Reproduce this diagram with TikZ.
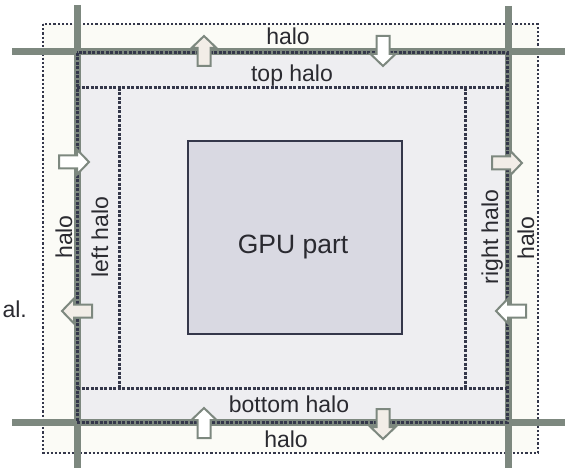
\documentclass[tikz,border=0pt]{standalone}
\usepackage{fontspec}
\setmainfont{Liberation Sans}

\definecolor{rim}{HTML}{7D887F}
\definecolor{dotc}{HTML}{34374a}
\definecolor{haloout}{HTML}{FBFBF6}
\definecolor{haloin}{HTML}{EEEEF1}
\definecolor{gpufill}{HTML}{D9D9E2}
\definecolor{cream}{HTML}{F2EDE7}
\definecolor{txt}{HTML}{2A2A30}

\begin{document}
\begin{tikzpicture}[
        x=1pt, y=-1pt,
        font=\fontsize{23}{27}\selectfont,
        lbl/.style = {text=txt, inner sep=0pt, anchor=base},
        grid/.style = {rim, line width=7pt},
        dots/.style = {dotc, line width=3pt, dash pattern=on 3pt off 1.5pt},
        outerdots/.style = {dotc, line width=2.2pt, dash pattern=on 2.2pt off 2pt},
        blk/.pic = {\path[pic actions, draw=rim, line width=2pt, line join=miter]
                (1,-6.5) -- (19,-6.5) -- (19,-12.5) -- (31,0) -- (19,12.5)
                -- (19,6.5) -- (1,6.5) -- cycle;},
        outarr/.style = {fill=cream},
        inarr/.style = {fill=white}
        ]
        \useasboundingbox (0,0) rectangle (565,468);

        % outer halo ring and the owned block
        \draw[outerdots, fill=haloout] (43,24) rectangle (538,453);
        \fill[haloin] (77,52) rectangle (507,422);

        % partition lines
        \draw[grid] (77.5,5) -- (77.5,468);
        \draw[grid] (508,6) -- (508,468);
        \draw[grid] (12,52) -- (565,52);
        \draw[grid] (12,422) -- (565,422);

        % halo strips inside the block
        \draw[dots] (77,53) rectangle (507,422);
        \draw[dots] (77,88) -- (507,88);
        \draw[dots] (77,388) -- (507,388);
        \draw[dots] (119,88) -- (119,388);
        \draw[dots] (465,88) -- (465,388);

        % interior
        \node[draw=dotc, line width=1.4pt, fill=gpufill, minimum width=214pt,
              minimum height=193pt, inner sep=0pt] (gpu) at (295,237.5) {};
        \node[lbl, font=\fontsize{26.5}{30}\selectfont] (gputxt) at (293,253) {GPU part};

        % labels
        \node[lbl] (haloT) at (288,45) {halo};
        \node[lbl] (topH) at (292,82) {top halo};
        \node[lbl] (botH) at (289,412) {bottom halo};
        \node[lbl] (haloB) at (286,447) {halo};
        \node[lbl, rotate=90] (haloL) at (72,237) {halo};
        \node[lbl, rotate=90] (leftH) at (108,237) {left halo};
        \node[lbl, rotate=90] (rightH) at (498,237) {right halo};
        \node[lbl, rotate=90] (haloR) at (534,238) {halo};
        \node[lbl, anchor=base east] (cut) at (27,317) {al.};

        % exchange arrows
        \pic[outarr, rotate=90] (upT) at (204,67) {blk};
        \pic[inarr, rotate=-90] (dnT) at (383,35) {blk};
        \pic[inarr, rotate=90] (upB) at (204,439) {blk};
        \pic[outarr, rotate=-90] (dnB) at (383,408) {blk};
        \pic[inarr] (rtL) at (58,162) {blk};
        \pic[outarr, rotate=180] (ltL) at (93,311) {blk};
        \pic[outarr] (rtR) at (491,163) {blk};
        \pic[inarr, rotate=180] (ltR) at (527,311) {blk};

\end{tikzpicture}
\end{document}
